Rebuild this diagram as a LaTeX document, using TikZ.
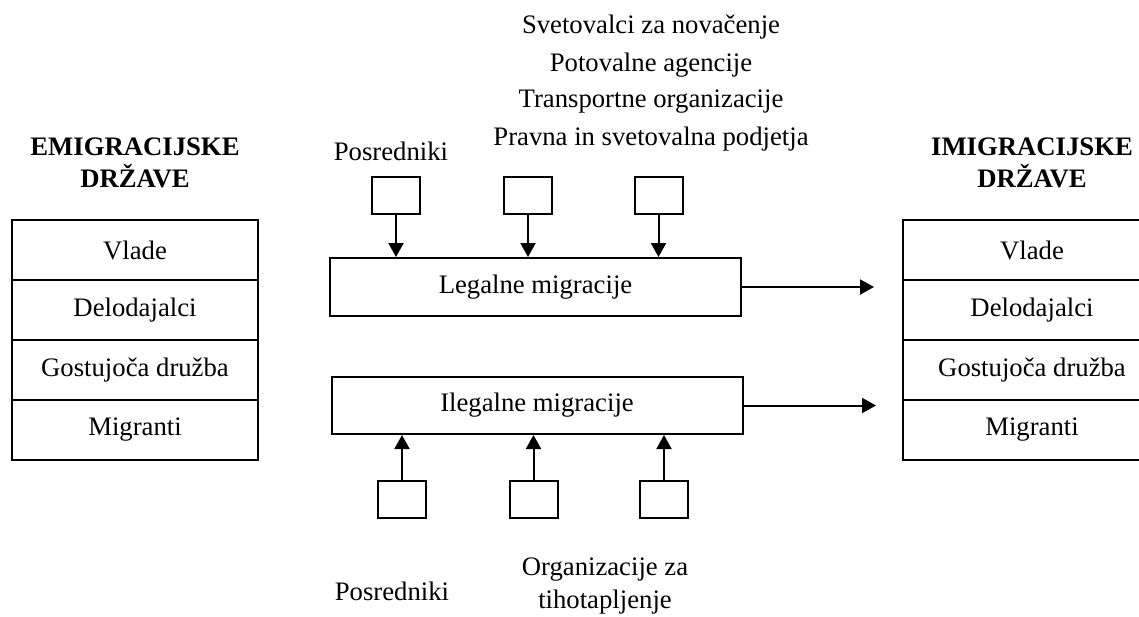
\documentclass[tikz,border=0pt]{standalone}
\usepackage{fontspec}
\setmainfont{Liberation Serif}
\usetikzlibrary{arrows.meta}
\begin{document}
\begin{tikzpicture}[x=1pt,y=-1pt,
  every node/.style={font=\fontsize{26.7}{32}\selectfont, inner sep=0pt},
  cell/.style={draw, line width=2pt, minimum height=60pt},
  lcell/.style={cell, minimum width=246pt},
  rcell/.style={cell, minimum width=258pt},
  smallbox/.style={draw, line width=2pt, minimum width=48pt, minimum height=37pt},
  migbox/.style={draw, line width=2pt, minimum width=411pt, minimum height=58pt},
  title/.style={font=\fontsize{26.7}{32}\selectfont\bfseries, anchor=base},
  lbl/.style={anchor=base},
  arr/.style={line width=2pt, -{Triangle[length=14pt,width=15pt]}}
]
\useasboundingbox (0,0) rectangle (1139,616);
\clip (0,0) rectangle (1139,616);

% titles
\node[title] (et1) at (135,155) {EMIGRACIJSKE};
\node[title] (et2) at (135,187) {DRŽAVE};
\node[title] (it1) at (1032,155) {IMIGRACIJSKE};
\node[title] (it2) at (1032,187) {DRŽAVE};

% left table
\node[lcell] (L1) at (135,250) {Vlade};
\node[lcell] (L2) at (135,310) {Delodajalci};
\node[lcell] (L3) at (135,370) {Gostujoča družba};
\node[lcell] (L4) at (135,430) {Migranti};

% right table
\node[rcell] (R1) at (1032,250) {Vlade};
\node[rcell] (R2) at (1032,310) {Delodajalci};
\node[rcell] (R3) at (1032,370) {Gostujoča družba};
\node[rcell] (R4) at (1032,430) {Migranti};

% top labels
\node[lbl] (s1) at (651,33) {Svetovalci za novačenje};
\node[lbl] (s2) at (651,71) {Potovalne agencije};
\node[lbl] (s3) at (651,107) {Transportne organizacije};
\node[lbl] (s4) at (651,145) {Pravna in svetovalna podjetja};
\node[lbl] (p1) at (391,160) {Posredniki};

% migration boxes
\node[migbox] (legal) at (535.5,287) {Legalne migracije};
\node[migbox, minimum height=57pt] (ilegal) at (537,405.5) {Ilegalne migracije};

% top small boxes
\node[smallbox] (t1) at (396,195.5) {};
\node[smallbox] (t2) at (528,195.5) {};
\node[smallbox] (t3) at (658.5,195.5) {};

% bottom small boxes
\node[smallbox] (b1) at (402,499.5) {};
\node[smallbox] (b2) at (533.5,499.5) {};
\node[smallbox] (b3) at (664,499.5) {};

% bottom labels
\node[lbl] (p2) at (392,600) {Posredniki};
\node[lbl] (o1) at (605,575) {Organizacije za};
\node[lbl] (o2) at (605,608) {tihotapljenje};

% arrows
\draw[arr] (t1.south) -- (t1.south |- legal.north);
\draw[arr] (t2.south) -- (t2.south |- legal.north);
\draw[arr] (t3.south) -- (t3.south |- legal.north);
\draw[arr] (b1.north) -- (b1.north |- ilegal.south);
\draw[arr] (b2.north) -- (b2.north |- ilegal.south);
\draw[arr] (b3.north) -- (b3.north |- ilegal.south);

\coordinate (le) at (874,287);
\coordinate (ie) at (876,405.5);
\draw[arr] (legal.east) -- (le);
\draw[arr] (ilegal.east) -- (ie);
\end{tikzpicture}
\end{document}
